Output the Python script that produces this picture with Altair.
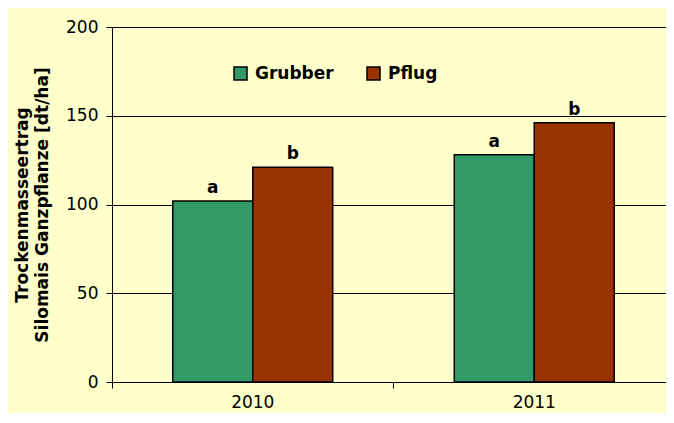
import altair as alt
import pandas as pd

years = ["2010", "2011"]
series = ["Grubber", "Pflug"]
grubber = [102, 128]
pflug = [121, 146]
letters_grubber = ["a", "a"]
letters_pflug = ["b", "b"]
colors = ["#339966", "#993300"]
y_ticks = [0, 50, 100, 150, 200]

rows = []
for i, yr in enumerate(years):
    rows.append({"Jahr": yr, "Variante": series[0], "Wert": grubber[i], "Buchstabe": letters_grubber[i]})
    rows.append({"Jahr": yr, "Variante": series[1], "Wert": pflug[i], "Buchstabe": letters_pflug[i]})
df = pd.DataFrame(rows)

FONT = "DejaVu Sans"

x_scale = alt.Scale(paddingInner=0, paddingOuter=0, range=[0, 563])
xoff_scale = alt.Scale(paddingInner=0, paddingOuter=0.76)
y_scale = alt.Scale(domain=[0, 200], nice=False)

y_axis = alt.Axis(title=["Trockenmasseertrag", "Silomais Ganzpflanze [dt/ha]"],
                  titleFont=FONT, titleFontSize=17, titleFontWeight="bold",
                  titleColor="black", titleLineHeight=20, titlePadding=14,
                  values=y_ticks, labelFont=FONT, labelFontSize=17,
                  labelColor="black", labelPadding=8,
                  tickSize=6, tickColor="black", domainColor="black",
                  gridColor="black", gridWidth=1, gridOpacity=1)

bars = alt.Chart(df).mark_bar(stroke="black", strokeWidth=1.5).encode(
    x=alt.X("Jahr:N", sort=years, scale=x_scale,
            axis=alt.Axis(title=None, orient="bottom", labelAngle=0, ticks=False, tickSize=0,
                          domain=True, domainColor="black", domainWidth=1,
                          labelFont=FONT, labelFontSize=17, labelColor="black",
                          labelPadding=12, grid=False)),
    xOffset=alt.XOffset("Variante:N", sort=series, scale=xoff_scale),
    y=alt.Y("Wert:Q", scale=y_scale, axis=y_axis),
    color=alt.Color("Variante:N", sort=series,
                    scale=alt.Scale(domain=series, range=colors),
                    legend=alt.Legend(title=None, orient="none", legendX=120, legendY=38,
                                      direction="horizontal", symbolType="square",
                                      symbolSize=169, symbolStrokeColor="black",
                                      symbolStrokeWidth=1.5, symbolOpacity=1,
                                      labelFont=FONT, labelFontSize=17,
                                      labelFontWeight="bold", labelColor="black",
                                      labelOffset=6, columnPadding=30)),
)

letters = alt.Chart(df).mark_text(baseline="bottom", dy=-4, font=FONT, fontSize=17,
                                  fontWeight="bold", color="black").encode(
    x=alt.X("Jahr:N", sort=years, scale=x_scale,
            axis=alt.Axis(title=None, orient="bottom", labels=False, domain=False, grid=False,
                          ticks=True, tickSize=6, tickColor="black", bandPosition=0)),
    xOffset=alt.XOffset("Variante:N", sort=series, scale=xoff_scale),
    y=alt.Y("Wert:Q", scale=y_scale, axis=y_axis),
    text="Buchstabe:N",
)

chart = alt.layer(bars, letters).resolve_axis(x="independent").properties(
    width=554, height=355,
    autosize=alt.AutoSizeParams(type="none"),
    padding={"left": 104, "top": 19, "right": 0, "bottom": 31},
    background="#FFFFCC",
).configure_view(stroke=None, fill="#FFFFCC")

chart.save("out.html", embed_options={"renderer": "svg", "actions": False})
